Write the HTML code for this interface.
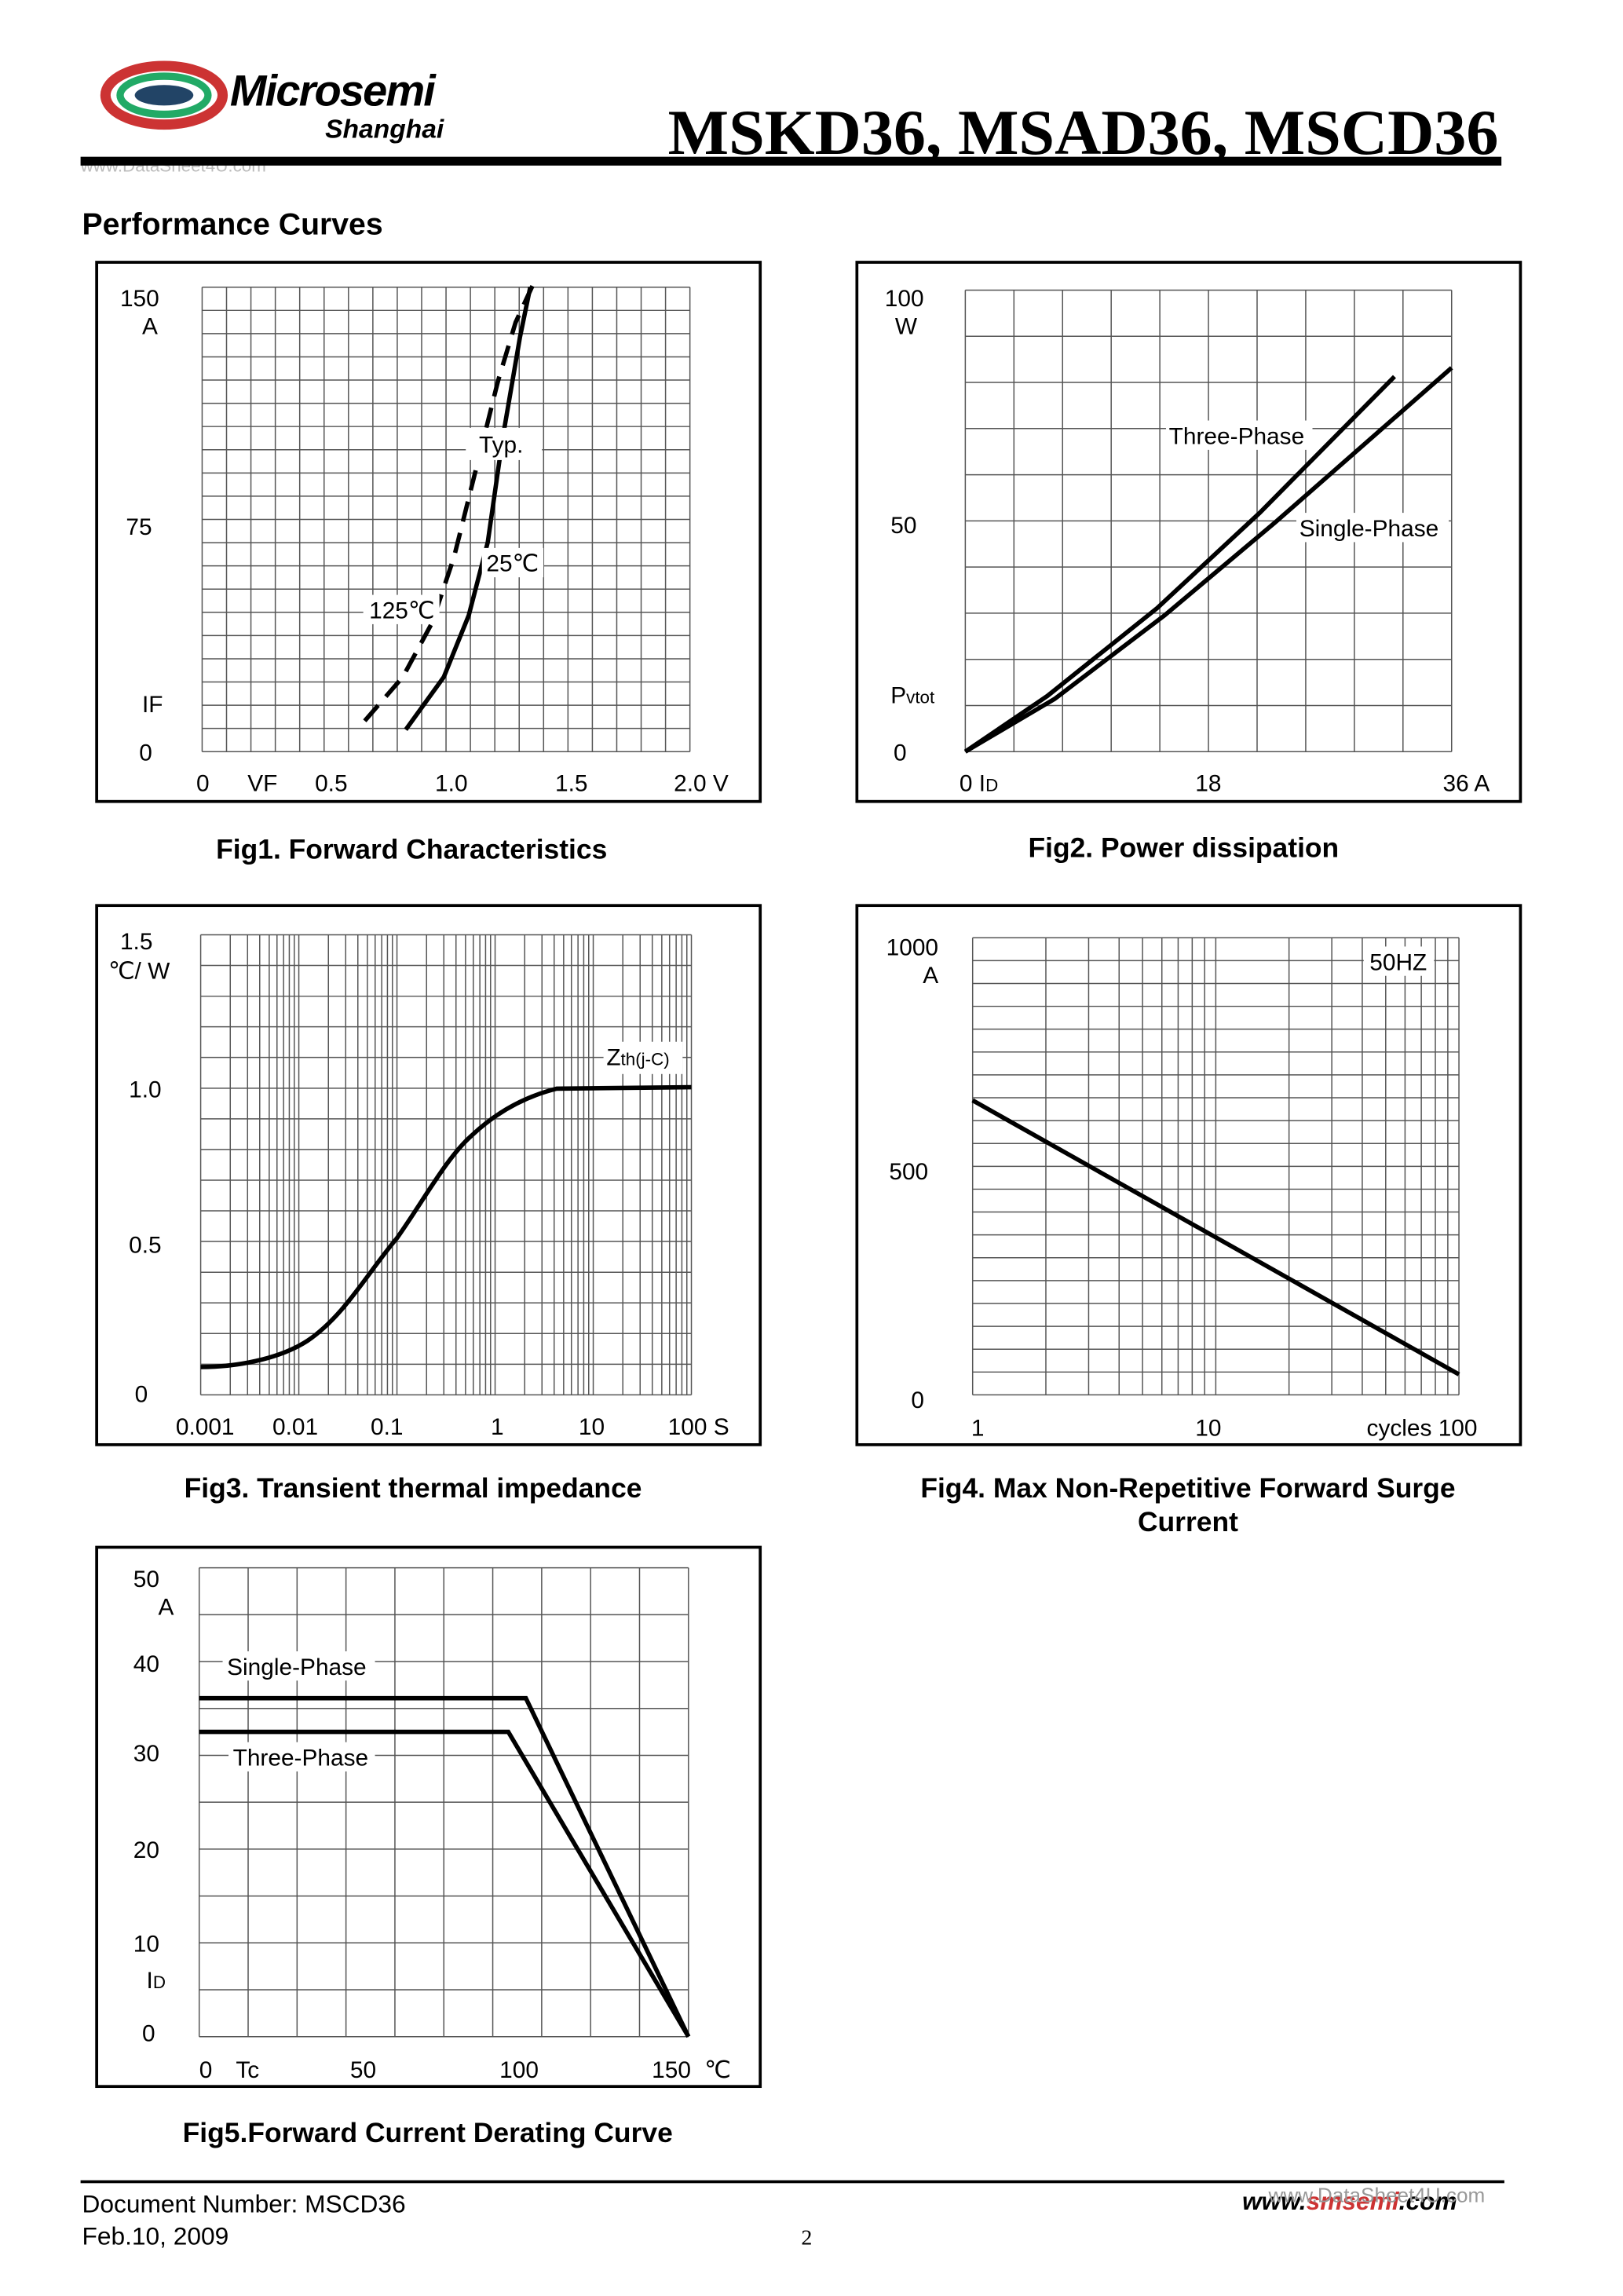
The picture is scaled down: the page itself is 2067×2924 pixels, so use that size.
<!DOCTYPE html>
<html><head><meta charset="utf-8"><style>
html,body{margin:0;padding:0;background:#fff;}
svg{display:block;}
text{font-family:"Liberation Sans",sans-serif;fill:#000;}
</style></head><body>
<svg width="2067" height="2924" viewBox="0 0 1108 1567" preserveAspectRatio="none" xmlns="http://www.w3.org/2000/svg">
<!-- header -->
<ellipse cx="112" cy="65" rx="40" ry="20" fill="none" stroke="#c33" stroke-width="7"/>
<ellipse cx="112" cy="65" rx="30" ry="13" fill="none" stroke="#2a6" stroke-width="5"/>
<ellipse cx="112" cy="65" rx="20" ry="7" fill="#246" />
<text x="157" y="72" font-size="30" font-weight="bold" font-style="italic" letter-spacing="-1">Microsemi</text>
<text x="222" y="94" font-size="18" font-weight="bold" font-style="italic">Shanghai</text>
<text x="55" y="117" font-size="12" fill="#bbb" style="fill:#bbb">www.DataSheet4U.com</text>
<text x="1023" y="105" font-size="44" font-weight="bold" text-anchor="end" style="font-family:'Liberation Serif',serif">MSKD36, MSAD36, MSCD36</text>
<rect x="55" y="107" width="970" height="6" fill="#000"/>
<text x="56" y="160" font-size="21" font-weight="bold">Performance Curves</text>

<g fill="none" stroke="#000">
<rect x="66" y="179" width="453" height="368" stroke-width="2"/>
<rect x="585" y="179" width="453" height="368" stroke-width="2"/>
<rect x="66" y="618" width="453" height="368" stroke-width="2"/>
<rect x="585" y="618" width="453" height="368" stroke-width="2"/>
<rect x="66" y="1056" width="453" height="368" stroke-width="2"/>
</g>

<path stroke="#555" stroke-width="0.8" fill="none" d="
M138,196V513 M154.65,196V513 M171.3,196V513 M187.95,196V513 M204.6,196V513 M221.25,196V513 M237.9,196V513 M254.55,196V513 M271.2,196V513 M287.85,196V513 M304.5,196V513 M321.15,196V513 M337.8,196V513 M354.45,196V513 M371.1,196V513 M387.75,196V513 M404.4,196V513 M421.05,196V513 M437.7,196V513 M454.35,196V513 M471,196V513
M138,196H471 M138,211.85H471 M138,227.7H471 M138,243.55H471 M138,259.4H471 M138,275.25H471 M138,291.1H471 M138,306.95H471 M138,322.8H471 M138,338.65H471 M138,354.5H471 M138,370.35H471 M138,386.2H471 M138,402.05H471 M138,417.9H471 M138,433.75H471 M138,449.6H471 M138,465.45H471 M138,481.3H471 M138,497.15H471 M138,513H471"/>
<path stroke="#000" stroke-width="3" fill="none" d="M277,498 L303,462 L320,420 L333,370 L343,300 L355,230 L362,196"/>
<path stroke="#000" stroke-width="3" fill="none" stroke-dasharray="14,8" d="M249,492 L275,462 L295,425 L310,380 L325,320 L340,260 L352,220 L364,194"/>
<rect x="318" y="292" width="52" height="22" fill="#fff"/><text x="327" y="309" font-size="16">Typ.</text>
<rect x="329" y="374" width="42" height="20" fill="#fff"/><text x="332" y="390" font-size="16">25℃</text>
<rect x="248" y="406" width="52" height="20" fill="#fff"/><text x="252" y="422" font-size="16">125℃</text>
<g font-size="16">
<text x="82" y="209">150</text><text x="97" y="228">A</text><text x="86" y="365">75</text><text x="97" y="486">IF</text><text x="95" y="519">0</text>
<text x="134" y="540">0</text><text x="169" y="540">VF</text><text x="215" y="540">0.5</text><text x="297" y="540">1.0</text><text x="379" y="540">1.5</text><text x="460" y="540">2.0 V</text>
</g>
<text x="281" y="586" font-size="19" font-weight="bold" text-anchor="middle">Fig1. Forward Characteristics</text>

<!-- Fig2 -->
<path stroke="#555" stroke-width="0.8" fill="none" d="
M659,198V513 M692.2,198V513 M725.4,198V513 M758.6,198V513 M791.8,198V513 M825,198V513 M858.2,198V513 M891.4,198V513 M924.6,198V513 M957.8,198V513 M991,198V513
M659,198H991 M659,229.5H991 M659,261H991 M659,292.5H991 M659,324H991 M659,355.5H991 M659,387H991 M659,418.5H991 M659,450H991 M659,481.5H991 M659,513H991"/>
<path stroke="#000" stroke-width="3" fill="none" d="M659,513 L715,475 L790,415 L860,350 L952,257"/>
<path stroke="#000" stroke-width="3" fill="none" d="M659,513 L720,477 L795,420 L870,357 L991,251"/>
<rect x="796" y="287" width="100" height="20" fill="#fff"/><text x="798" y="303" font-size="16">Three-Phase</text>
<rect x="885" y="350" width="104" height="20" fill="#fff"/><text x="887" y="366" font-size="16">Single-Phase</text>
<g font-size="16">
<text x="604" y="209">100</text><text x="611" y="228">W</text><text x="608" y="364">50</text><text x="608" y="480">P<tspan font-size="12">vtot</tspan></text><text x="610" y="519">0</text>
<text x="655" y="540">0 I<tspan font-size="12">D</tspan></text><text x="816" y="540">18</text><text x="985" y="540">36 A</text>
</g>
<text x="808" y="585" font-size="19" font-weight="bold" text-anchor="middle">Fig2. Power dissipation</text>

<!-- Fig3 -->
<path stroke="#555" stroke-width="0.8" fill="none" d="
M137,638V952 M157.2,638V952 M169,638V952 M177.3,638V952 M183.8,638V952 M189.1,638V952 M193.6,638V952 M197.5,638V952 M200.9,638V952
M204,638V952 M224.2,638V952 M236,638V952 M244.3,638V952 M250.8,638V952 M256.1,638V952 M260.6,638V952 M264.5,638V952 M267.9,638V952
M271,638V952 M291.2,638V952 M303,638V952 M311.3,638V952 M317.8,638V952 M323.1,638V952 M327.6,638V952 M331.5,638V952 M334.9,638V952
M338,638V952 M358.2,638V952 M370,638V952 M378.3,638V952 M384.8,638V952 M390.1,638V952 M394.6,638V952 M398.5,638V952 M401.9,638V952
M405,638V952 M425.2,638V952 M437,638V952 M445.3,638V952 M451.8,638V952 M457.1,638V952 M461.6,638V952 M465.5,638V952 M468.9,638V952 M472,638V952
M137,638H472 M137,658.9H472 M137,679.9H472 M137,700.8H472 M137,721.7H472 M137,742.7H472 M137,763.6H472 M137,784.5H472 M137,805.5H472 M137,826.4H472 M137,847.3H472 M137,868.3H472 M137,889.2H472 M137,910.1H472 M137,931.1H472 M137,952H472"/>
<path stroke="#000" stroke-width="3" fill="none" d="M137,933 C160,933 190,928 210,915 C235,898 250,870 271,845 C290,818 305,790 322,775 C340,758 360,748 380,743 L472,742"/>
<rect x="412" y="711" width="54" height="22" fill="#fff"/><text x="414" y="727" font-size="16">Z<tspan font-size="12">th(j-C)</tspan></text>
<g font-size="16">
<text x="82" y="648">1.5</text><text x="74" y="668">℃/ W</text><text x="88" y="749">1.0</text><text x="88" y="855">0.5</text><text x="92" y="957">0</text>
<text x="120" y="979">0.001</text><text x="186" y="979">0.01</text><text x="253" y="979">0.1</text><text x="335" y="979">1</text><text x="395" y="979">10</text><text x="456" y="979">100 S</text>
</g>
<text x="282" y="1022" font-size="19" font-weight="bold" text-anchor="middle">Fig3. Transient thermal impedance</text>

<!-- Fig4 -->
<path stroke="#555" stroke-width="0.8" fill="none" d="
M664,640V952 M714,640V952 M743.2,640V952 M764,640V952 M780,640V952 M793.2,640V952 M804.3,640V952 M813.9,640V952 M822.4,640V952
M830,640V952 M880,640V952 M909.2,640V952 M930,640V952 M946,640V952 M959.2,640V952 M970.3,640V952 M979.9,640V952 M988.4,640V952 M996,640V952
M664,640H996 M664,655.6H996 M664,671.2H996 M664,686.8H996 M664,702.4H996 M664,718H996 M664,733.6H996 M664,749.2H996 M664,764.8H996 M664,780.4H996 M664,796H996 M664,811.6H996 M664,827.2H996 M664,842.8H996 M664,858.4H996 M664,874H996 M664,889.6H996 M664,905.2H996 M664,920.8H996 M664,936.4H996 M664,952H996"/>
<path stroke="#000" stroke-width="3" fill="none" d="M664,751 L996,938"/>
<rect x="931" y="646" width="48" height="20" fill="#fff"/><text x="935" y="662" font-size="16">50HZ</text>
<g font-size="16">
<text x="605" y="652">1000</text><text x="630" y="671">A</text><text x="607" y="805">500</text><text x="622" y="961">0</text>
<text x="663" y="980">1</text><text x="816" y="980">10</text><text x="933" y="980">cycles 100</text>
</g>
<text x="811" y="1022" font-size="19" font-weight="bold" text-anchor="middle">Fig4. Max Non-Repetitive Forward Surge</text>
<text x="811" y="1045" font-size="19" font-weight="bold" text-anchor="middle">Current</text>

<!-- Fig5 -->
<path stroke="#555" stroke-width="0.8" fill="none" d="
M136,1070V1390 M169.4,1070V1390 M202.8,1070V1390 M236.2,1070V1390 M269.6,1070V1390 M303,1070V1390 M336.4,1070V1390 M369.8,1070V1390 M403.2,1070V1390 M436.6,1070V1390 M470,1070V1390
M136,1070H470 M136,1102H470 M136,1134H470 M136,1166H470 M136,1198H470 M136,1230H470 M136,1262H470 M136,1294H470 M136,1326H470 M136,1358H470 M136,1390H470"/>
<path stroke="#000" stroke-width="3" fill="none" d="M136,1159 L359,1159 L470,1390"/>
<path stroke="#000" stroke-width="3" fill="none" d="M136,1182 L347,1182 L470,1390"/>
<rect x="152" y="1127" width="104" height="20" fill="#fff"/><text x="155" y="1143" font-size="16">Single-Phase</text>
<rect x="156" y="1189" width="100" height="20" fill="#fff"/><text x="159" y="1205" font-size="16">Three-Phase</text>
<g font-size="16">
<text x="91" y="1083">50</text><text x="108" y="1102">A</text><text x="91" y="1141">40</text><text x="91" y="1202">30</text><text x="91" y="1268">20</text><text x="91" y="1332">10</text><text x="100" y="1357">I<tspan font-size="12">D</tspan></text><text x="97" y="1393">0</text>
<text x="136" y="1418">0</text><text x="161" y="1418">Tc</text><text x="239" y="1418">50</text><text x="341" y="1418">100</text><text x="445" y="1418">150</text><text x="481" y="1418">℃</text>
</g>
<text x="292" y="1462" font-size="19" font-weight="bold" text-anchor="middle">Fig5.Forward Current Derating Curve</text>

<!-- footer -->
<rect x="55" y="1488" width="972" height="2" fill="#000"/>
<text x="56" y="1510" font-size="17">Document Number: MSCD36</text>
<text x="56" y="1532" font-size="17">Feb.10, 2009</text>
<text x="547" y="1532" font-size="15" style="font-family:'Liberation Serif',serif">2</text>
<text x="848" y="1508" font-size="17" font-weight="bold" font-style="italic">www.<tspan style="fill:#c33">smsemi</tspan>.com</text>
<text x="866" y="1503" font-size="14" style="fill:#999">www.DataSheet4U.com</text>
</svg>
</body></html>
